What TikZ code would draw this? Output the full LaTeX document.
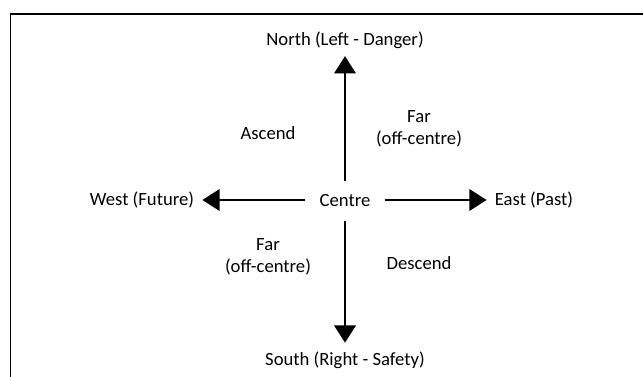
\documentclass[tikz,border=0pt]{standalone}
\usepackage{fontspec}
\setmainfont{Carlito}
\usetikzlibrary{arrows.meta}
\tikzset{
  lbl/.style={font=\fontsize{14pt}{16.5pt}\selectfont, align=center, inner sep=0pt},
  endpt/.style={lbl, inner xsep=6pt},
  arr/.style={line width=2pt, -{Triangle[length=13pt,width=16pt]}},
  frame/.style={line width=1pt, black}
}
\begin{document}
\begin{tikzpicture}[x=0.75pt,y=-0.75pt]
\useasboundingbox (0,0) rectangle (643,377);
\draw[frame] (10.5,377) -- (10.5,14) -- (643,14);
\node[lbl, minimum width=59pt, minimum height=30pt] (C) at (345,201) {Centre};
\node[endpt, minimum height=23pt] (N) at (345,40.5) {North (Left - Danger)};
\node[endpt, minimum height=25.5pt] (S) at (345,360) {South (Right - Safety)};
\node[endpt] (W) at (142,200) {West (Future)};
\node[endpt] (E) at (534,200) {East (Past)};
\node[lbl] (asc) at (268,133) {Ascend};
\node[lbl] (far1) at (419,129) {Far\\(off-centre)};
\node[lbl] (far2) at (268,257) {Far\\(off-centre)};
\node[lbl] (desc) at (419,263) {Descend};
\draw[arr] (C.north) -- (N.south);
\draw[arr] (C.south) -- (S.north);
\draw[arr] (C.west |- W.east) -- (W.east);
\draw[arr] (C.east |- E.west) -- (E.west);
\end{tikzpicture}
\end{document}
